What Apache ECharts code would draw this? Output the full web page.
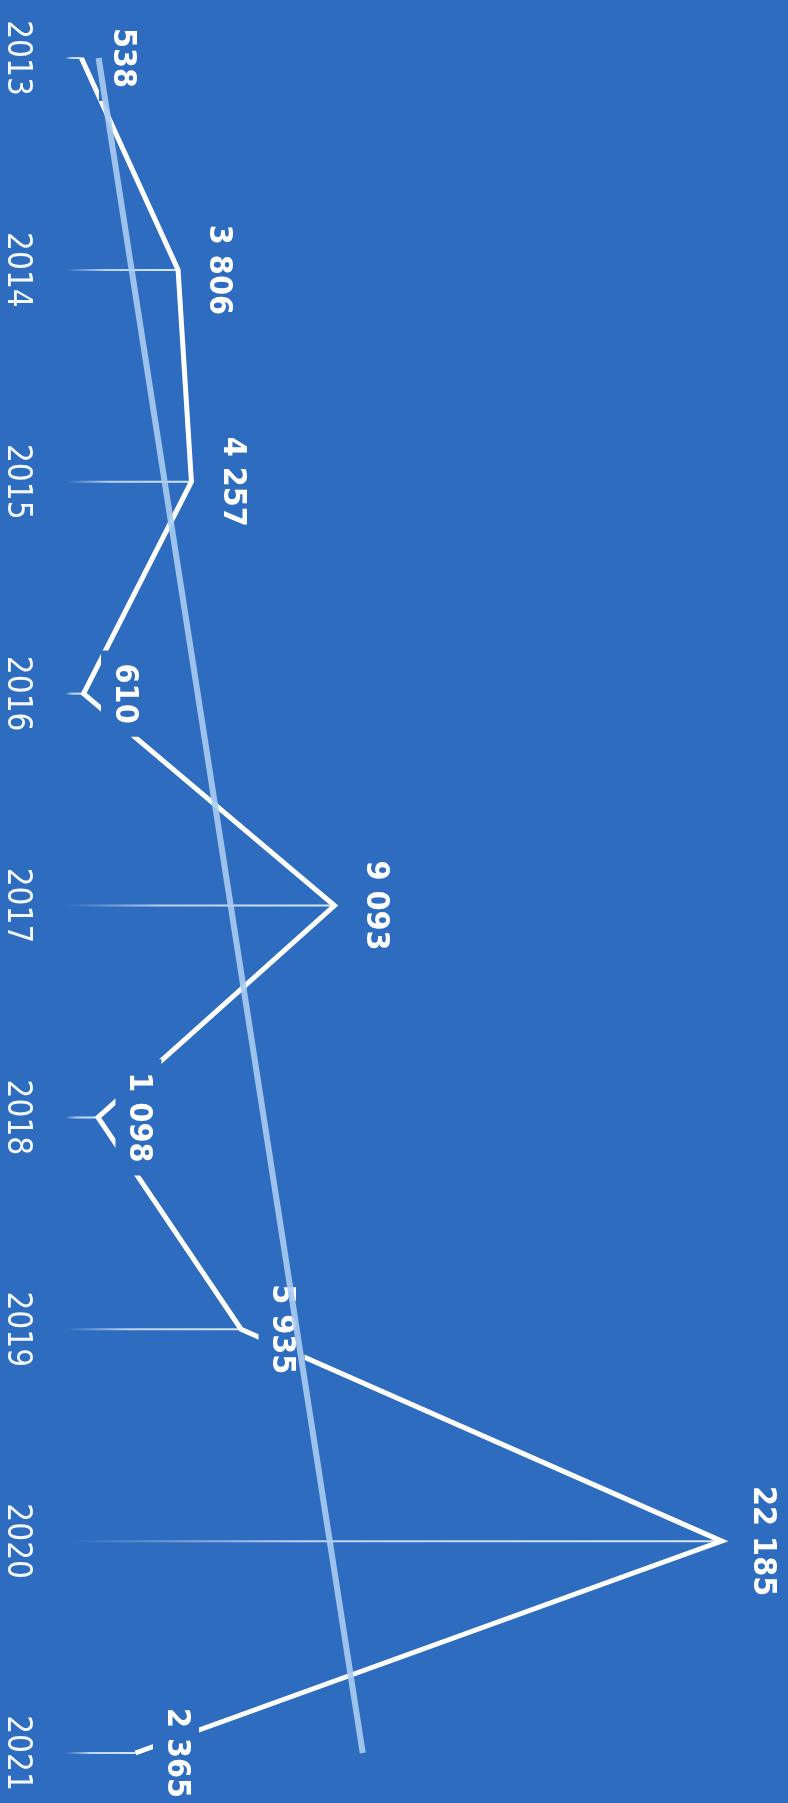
<!DOCTYPE html>
<html>
<head>
<meta charset="utf-8">
<script src="https://cdn.jsdelivr.net/npm/echarts@6/dist/echarts.min.js"></script>
<style>
html,body{margin:0;padding:0;background:#2d6cbe;}
#c{width:788px;height:1803px;}
</style>
</head>
<body>
<div id="c"></div>
<script>
var years = ['2013','2014','2015','2016','2017','2018','2019','2020','2021'];
var values = [538, 3806, 4257, 610, 9093, 1098, 5935, 22185, 2365];
// trend line endpoints (first and last year)
var trendValues = [1120, null, null, null, null, null, null, null, 10050];

var BG = '#2d6cbe';
function fmt(v){ return String(v).replace(/\B(?=(\d{3})+(?!\d))/g, ' '); }

var chart = echarts.init(document.getElementById('c'));
chart.setOption({
  backgroundColor: BG,
  animation: false,
  grid: {left: 65, right: 12.6, top: 58, bottom: 50},
  xAxis: {type: 'value', min: 0, max: 24000, show: false},
  yAxis: {
    type: 'category', data: years, inverse: true, boundaryGap: false,
    axisLine: {show: false}, axisTick: {show: false}, splitLine: {show: false},
    axisLabel: {
      rotate: -90, margin: 49, align: 'center', verticalAlign: 'middle',
      color: '#f4f8fd', fontSize: 33,
      fontFamily: "'DejaVu Sans Condensed', 'DejaVu Sans', sans-serif"
    }
  },
  series: [
    {
      type: 'bar', z: 1, barWidth: 2, data: values, silent: true,
      itemStyle: {
        color: new echarts.graphic.LinearGradient(0, 0, 1, 0, [
          {offset: 0, color: 'rgba(235,243,255,0)'},
          {offset: 0.35, color: 'rgba(235,243,255,0.75)'},
          {offset: 1, color: 'rgba(235,243,255,0.9)'}
        ])
      }
    },
    {
      type: 'line', z: 2, data: values,
      symbol: 'circle', symbolSize: 1,
      itemStyle: {color: 'rgba(255,255,255,0)'},
      lineStyle: {color: '#ffffff', width: 5, join: 'miter'},
      label: {
        show: true, position: 'right', distance: 40,
        rotate: -90, align: 'center', verticalAlign: 'middle',
        color: '#ffffff', fontWeight: 'bold', fontSize: 32,
        fontFamily: "'DejaVu Sans Condensed', 'DejaVu Sans', sans-serif",
        backgroundColor: BG, padding: [7, 13, 7, 13],
        formatter: function(p){ return fmt(p.value); }
      }
    },
    {
      type: 'line', z: 3, data: trendValues, connectNulls: true,
      symbol: 'none', silent: true,
      lineStyle: {color: 'rgba(170,205,242,0.9)', width: 6}
    }
  ]
});
</script>
</body>
</html>
